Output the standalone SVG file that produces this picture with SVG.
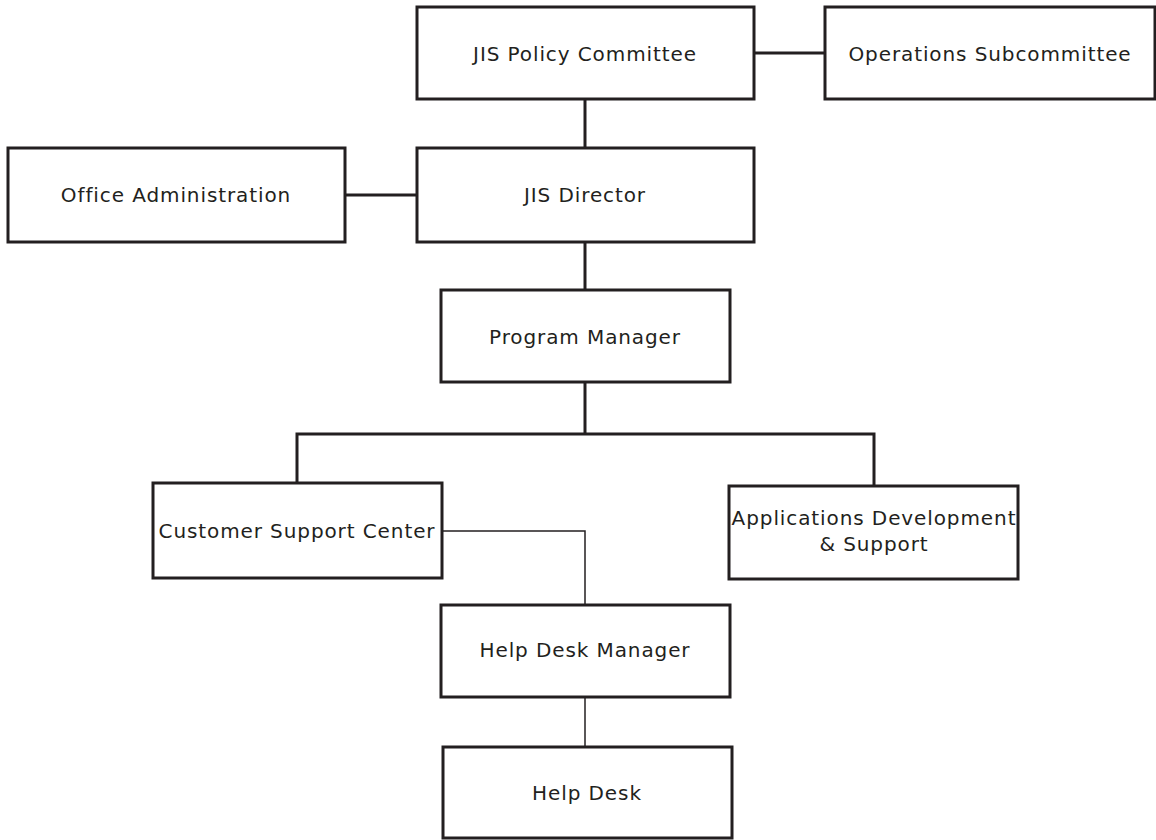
<svg xmlns="http://www.w3.org/2000/svg" width="1156" height="840" viewBox="0 0 1156 840">
<style>
.box{fill:#fff;stroke:#231f20;stroke-width:3}
.t{font-family:"DejaVu Sans",Verdana,sans-serif;font-size:20px;letter-spacing:0.9px;fill:#231f20;text-anchor:middle}
.c{fill:none;stroke:#231f20;stroke-width:3}
.thin{fill:none;stroke:#231f20;stroke-width:1.5}
</style>
<rect width="1156" height="840" fill="#fff"/>
<g id="connectors">
<path class="c" d="M754 53H825"/>
<path class="c" d="M585 99V148"/>
<path class="c" d="M345 195H417"/>
<path class="c" d="M585 242V290"/>
<path class="c" d="M585 382V434"/>
<path class="c" d="M297 483V434H874V486"/>
<path class="thin" d="M442 531H585V605"/>
<path class="thin" d="M585 697V747"/>
</g>
<g id="policy"><rect class="box" x="417" y="7" width="337" height="92"/><text class="t" x="585" y="61">JIS Policy Committee</text></g>
<g id="ops"><rect class="box" x="825" y="7" width="330" height="92"/><text class="t" x="990" y="61">Operations Subcommittee</text></g>
<g id="director"><rect class="box" x="417" y="148" width="337" height="94"/><text class="t" x="585" y="202">JIS Director</text></g>
<g id="office"><rect class="box" x="8" y="148" width="337" height="94"/><text class="t" x="176" y="202">Office Administration</text></g>
<g id="pm"><rect class="box" x="441" y="290" width="289" height="92"/><text class="t" x="585" y="344">Program Manager</text></g>
<g id="csc"><rect class="box" x="153" y="483" width="289" height="95"/><text class="t" x="297" y="538">Customer Support Center</text></g>
<g id="apps"><rect class="box" x="729" y="486" width="289" height="93"/><text class="t" x="874" y="525">Applications Development</text><text class="t" x="874" y="551">&amp; Support</text></g>
<g id="hdm"><rect class="box" x="441" y="605" width="289" height="92"/><text class="t" x="585" y="657">Help Desk Manager</text></g>
<g id="hd"><rect class="box" x="443" y="747" width="289" height="91"/><text class="t" x="587" y="800">Help Desk</text></g>
</svg>
